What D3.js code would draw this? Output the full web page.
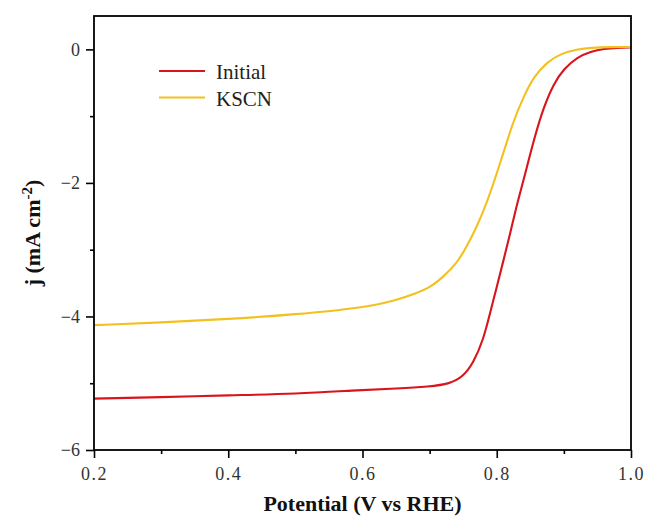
<!DOCTYPE html>
<html>
<head>
<meta charset="utf-8">
<script src="https://cdn.jsdelivr.net/npm/d3@7"></script>
<style>
  html, body { margin: 0; padding: 0; background: #fff; }
  svg { display: block; }
</style>
</head>
<body>
<svg id="chart" width="649" height="520"></svg>
<script>
// Linear sweep voltammetry: current density vs potential
const potentialInitial = [0.2, 0.3, 0.4, 0.5, 0.6, 0.65, 0.7, 0.73, 0.75, 0.765, 0.78, 0.79, 0.80, 0.81, 0.82, 0.83, 0.84, 0.855, 0.87, 0.885, 0.90, 0.92, 0.94, 0.96, 0.98, 1.0];
const currentInitial   = [-5.23, -5.21, -5.18, -5.16, -5.10, -5.08, -5.05, -5.01, -4.90, -4.70, -4.35, -3.95, -3.56, -3.16, -2.76, -2.32, -1.96, -1.36, -0.86, -0.51, -0.29, -0.115, -0.03, 0.01, 0.025, 0.03];

const potentialKSCN = [0.2, 0.3, 0.4, 0.5, 0.6, 0.65, 0.68, 0.70, 0.72, 0.74, 0.755, 0.77, 0.785, 0.805, 0.825, 0.84, 0.855, 0.875, 0.895, 0.92, 0.94, 0.97, 1.0];
const currentKSCN   = [-4.13, -4.09, -4.04, -3.97, -3.87, -3.76, -3.65, -3.57, -3.41, -3.21, -2.96, -2.66, -2.31, -1.71, -1.06, -0.71, -0.41, -0.19, -0.065, 0.0, 0.025, 0.035, 0.035];

const seriesNames = ["Initial", "KSCN"];
const seriesColors = ["#d8141c", "#f3c11f"];

const xMajorTicks = [0.2, 0.4, 0.6, 0.8, 1.0];
const xMinorTicks = [0.3, 0.5, 0.7, 0.9];
const yMajorTicks = [0, -2, -4, -6];
const yMinorTicks = [-1, -3, -5];

const svg = d3.select("#chart");
const plotLeft = 94, plotRight = 631, plotTop = 16, plotBottom = 450;

const x = d3.scaleLinear().domain([0.2, 1.0]).range([plotLeft, plotRight]);
const y = d3.scaleLinear().domain([-6, 0.5]).range([plotBottom, plotTop]);

const series = [
  { name: seriesNames[0], color: seriesColors[0], pts: potentialInitial.map((v, i) => [v, currentInitial[i]]) },
  { name: seriesNames[1], color: seriesColors[1], pts: potentialKSCN.map((v, i) => [v, currentKSCN[i]]) }
];

const line = d3.line()
  .x(d => x(d[0]))
  .y(d => y(d[1]))
  .curve(d3.curveBasis);

// curves, clipped to the plot frame
svg.append("clipPath").attr("id", "plotClip")
  .append("rect").attr("x", plotLeft).attr("y", plotTop)
  .attr("width", plotRight - plotLeft).attr("height", plotBottom - plotTop);

const plot = svg.append("g").attr("clip-path", "url(#plotClip)");
plot.selectAll("path.series")
  .data(series)
  .join("path")
  .attr("class", "series")
  .attr("d", d => line(d.pts))
  .attr("fill", "none")
  .attr("stroke", d => d.color)
  .attr("stroke-width", 2.1)
  .attr("stroke-linejoin", "round");

// axes
const serifFont = "'Liberation Serif', 'DejaVu Serif', serif";

const xAxis = svg.append("g").attr("transform", `translate(0,${plotBottom})`)
  .call(d3.axisBottom(x).tickValues(xMajorTicks).tickSize(8).tickPadding(9)
    .tickFormat(d => d3.format(".1f")(d)));
const xMinor = svg.append("g").attr("transform", `translate(0,${plotBottom})`)
  .call(d3.axisBottom(x).tickValues(xMinorTicks).tickSize(4).tickFormat(""));

const yAxis = svg.append("g").attr("transform", `translate(${plotLeft},0)`)
  .call(d3.axisLeft(y).tickValues(yMajorTicks).tickSize(8).tickPadding(6)
    .tickFormat(d => d === 0 ? "0" : "\u2212" + Math.abs(d)));
const yMinor = svg.append("g").attr("transform", `translate(${plotLeft},0)`)
  .call(d3.axisLeft(y).tickValues(yMinorTicks).tickSize(4).tickFormat(""));

[xAxis, xMinor, yAxis, yMinor].forEach(g => {
  g.select(".domain").remove();
  g.selectAll(".tick line").attr("stroke", "#000").attr("stroke-width", 1.6);
  g.selectAll(".tick text")
    .attr("fill", "#333")
    .style("font-family", serifFont)
    .style("font-size", "18px");
});
xAxis.selectAll(".tick text").style("letter-spacing", "1.5px");

// frame
svg.append("rect")
  .attr("x", plotLeft).attr("y", plotTop)
  .attr("width", plotRight - plotLeft).attr("height", plotBottom - plotTop)
  .attr("fill", "none").attr("stroke", "#000").attr("stroke-width", 1.8);

// axis titles
svg.append("text")
  .attr("x", (plotLeft + plotRight) / 2).attr("y", 511)
  .attr("text-anchor", "middle")
  .style("font-family", serifFont).style("font-weight", "bold").style("font-size", "22px")
  .attr("fill", "#111")
  .text("Potential (V vs RHE)");

const yTitle = svg.append("text")
  .attr("transform", `translate(40,${(plotTop + plotBottom) / 2}) rotate(-90)`)
  .attr("text-anchor", "middle")
  .style("font-family", serifFont).style("font-weight", "bold").style("font-size", "22px")
  .attr("fill", "#111");
yTitle.append("tspan").text("j (mA cm");
yTitle.append("tspan").attr("dy", -8).style("font-size", "15px").text("-2");
yTitle.append("tspan").attr("dy", 8).text(")");

// legend
const legend = svg.append("g");
series.forEach((s, i) => {
  const ly = 71 + i * 26.5;
  legend.append("line")
    .attr("x1", 159).attr("x2", 205).attr("y1", ly).attr("y2", ly)
    .attr("stroke", s.color).attr("stroke-width", 2.2);
  legend.append("text")
    .attr("x", 216).attr("y", ly + 8)
    .style("font-family", serifFont).style("font-size", "21px")
    .attr("fill", "#222")
    .text(s.name);
});
</script>
</body>
</html>
